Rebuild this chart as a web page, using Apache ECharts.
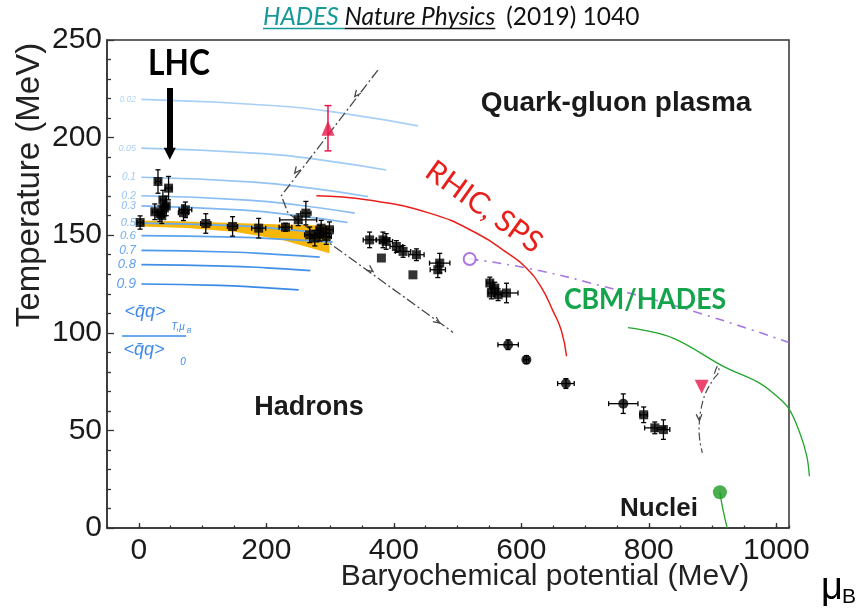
<!DOCTYPE html>
<html>
<head>
<meta charset="utf-8">
<script src="https://cdn.jsdelivr.net/npm/echarts@6/dist/echarts.min.js"></script>
<style>
html, body { margin: 0; padding: 0; background: #fff; }
#chart { width: 859px; height: 610px; }
</style>
</head>
<body>
<div id="chart"></div>
<script>
// ---------- axes ----------
const xMajorTicks = [0, 200, 400, 600, 800, 1000];
const xMinorStep = 50;
const yStep = 50;

// ---------- chemical freeze-out points (muB, T, errors) ----------
const fzMu    = [2, 30, 46.6, 37.7, 25, 33, 40, 36, 43, 73, 70, 105, 147, 188, 230, 250, 262, 268, 276, 284, 294, 299, 286, 362, 383, 388, 404, 380.5, 414.5, 435.5, 430, 472, 469, 550.6, 558.4, 553, 576.8, 563.6, 579.3, 608, 670, 760, 792, 809.5, 823];
const fzT     = [156.5, 177.5, 174.1, 168, 162, 161, 164, 160, 165, 163, 161.5, 156, 154.5, 153.6, 154.1, 157.9, 161.3, 150.2, 148.5, 151, 149.3, 152.8, 153.6, 147.6, 147.6, 146.8, 144.2, 138.3, 141.7, 140, 129.7, 135.7, 132.3, 125.5, 122.9, 120.4, 120.4, 119.5, 93.9, 86.2, 74, 63.7, 58, 51.3, 50.4];
const fzMuErr = [5, 4, 5, 4, 4, 4, 4, 4, 4, 10, 8, 8, 8, 11, 10, 29, 8, 8, 8, 8, 8, 6, 8, 10, 10, 10, 10, 0, 12, 12, 0, 16, 12, 5, 5, 5, 18, 6, 16, 4, 13, 23, 6, 16, 10];
const fzTErr  = [3.4, 6, 6, 5, 4, 4, 4, 4, 5, 4, 4, 5, 5, 5, 2, 3, 6, 4, 4, 4, 4, 4, 4, 4, 4, 4, 3, 0, 3, 3, 0, 5, 4, 3, 3, 3, 5, 3, 2.5, 2, 2.5, 5, 4, 3, 5];
const fzShape = ['s','s','s','s','s','s','s','s','s','s','s','s','s','s','s','s','s','s','s','s','s','s','s','s','s','s','s','s','s','s','s','s','s','s','s','s','s','s','c','c','c','c','s','s','s'];

// ---------- chiral condensate ratio contours ----------
const condLabels = ['0.02', '0.05', '0.1', '0.2', '0.3', '0.5', '0.6', '0.7', '0.8', '0.9'];
const condMu = [
  [4, 220, 330, 438],
  [4, 195, 290, 388],
  [4, 180, 270, 359.5],
  [4, 170, 255, 338.6],
  [4, 165, 245, 327.6],
  [4, 150, 230, 304],
  [4, 150, 230, 304],
  [4, 140, 215, 283.7],
  [4, 135, 200, 269],
  [4, 125, 190, 250.7]
];
const condT = [
  [219.6, 216.2, 211.9, 206.0],
  [194.6, 191.8, 188.3, 183.4],
  [179.7, 177.2, 174.1, 169.8],
  [170.2, 168.0, 165.2, 161.3],
  [165.0, 162.8, 160.2, 156.5],
  [156.2, 154.9, 153.0, 150.5],
  [149.8, 149.0, 147.9, 146.5],
  [142.2, 141.4, 140.2, 138.8],
  [134.9, 134.2, 133.3, 131.9],
  [125.0, 124.3, 123.3, 122.0]
];
const condColors = ['#a9d0f7', '#a0cbf6', '#94c4f4', '#8abef3', '#80b8f1', '#6aaaee', '#5ca2ec', '#4c98ea', '#3f8fe8', '#3a8ae6'];
const condLabelSize = [8.5, 9, 10, 10.5, 10.5, 11, 11.5, 12, 13, 14];

// ---------- crossover band ----------
const bandMu   = [3, 75, 150, 225, 299];
const bandLow  = [154.5, 153.7, 151.8, 147.6, 140.8];
const bandHigh = [157.5, 157.0, 156.2, 155.5, 154.8];

// ---------- boundary curves ----------
const rhicMu = [278.5, 360, 456, 530, 582, 605.5, 630, 650, 663, 671];
const rhicT  = [170.2, 168, 161.3, 151, 140, 134, 124, 111, 101, 88];
const cbmMu  = [767.5, 838, 917, 969, 995, 1019, 1037, 1048, 1052];
const cbmT   = [102.6, 97.3, 82.8, 75.1, 69.2, 61.5, 48.7, 36.7, 26.5];
const cepMu  = [519, 608, 726, 880, 1020];
const cepT   = [137.8, 133.2, 124, 110, 95];

// ---------- isentropic trajectories ----------
const trajMu = [375, 223.5, 234, 493];
const trajT  = [234.6, 170.2, 161.3, 100.2];
const trajArrowMu  = [338.7, 244.4, 367.4, 472];
const trajArrowT   = [221, 181.8, 131.4, 105];
const trajArrowSeg = [0, 0, 2, 2];

const lowMu = [903, 908, 910, 901, 889, 882, 879, 880, 884];
const lowT  = [79, 83, 80, 76, 69, 61, 52, 45, 38.5];
const lowArrowMu  = [879.4];
const lowArrowT   = [55];
const lowArrowSeg = [6];

// ---------- single markers ----------
const hadesUpMu = 296.7, hadesUpT = 204.8, hadesUpErr = 11.6;
const hadesDownMu = 883, hadesDownT = 72.3;
const nucleiMu = [911.6, 916, 923];
const nucleiT  = [18.3, 10, 0];
const lhcArrowMu = 48.5, lhcArrowTop = 225.4, lhcArrowEnd = 191.7;

// ---------- helpers ----------
function errorBarRenderer(color, cap, width) {
  return function (params, api) {
    const m = api.value(0), t = api.value(1), em = api.value(2), et = api.value(3);
    const c = api.coord([m, t]);
    const style = { stroke: color, lineWidth: width };
    const kids = [];
    if (em > 0) {
      const l = api.coord([m - em, t])[0], r = api.coord([m + em, t])[0];
      kids.push({ type: 'line', shape: { x1: l, y1: c[1], x2: r, y2: c[1] }, style });
      kids.push({ type: 'line', shape: { x1: l, y1: c[1] - cap, x2: l, y2: c[1] + cap }, style });
      kids.push({ type: 'line', shape: { x1: r, y1: c[1] - cap, x2: r, y2: c[1] + cap }, style });
    }
    if (et > 0) {
      const lo = api.coord([m, t - et])[1], hi = api.coord([m, t + et])[1];
      kids.push({ type: 'line', shape: { x1: c[0], y1: lo, x2: c[0], y2: hi }, style });
      kids.push({ type: 'line', shape: { x1: c[0] - cap, y1: lo, x2: c[0] + cap, y2: lo }, style });
      kids.push({ type: 'line', shape: { x1: c[0] - cap, y1: hi, x2: c[0] + cap, y2: hi }, style });
    }
    return { type: 'group', children: kids };
  };
}

function arrowRenderer(pathMu, pathT, color) {
  return function (params, api) {
    const seg = api.value(2);
    const p = api.coord([api.value(0), api.value(1)]);
    const a = api.coord([pathMu[seg], pathT[seg]]);
    const b = api.coord([pathMu[seg + 1], pathT[seg + 1]]);
    const ang = Math.atan2(b[1] - a[1], b[0] - a[0]);
    const L = 7, w = 0.42;
    const p1 = [p[0] - L * Math.cos(ang - w), p[1] - L * Math.sin(ang - w)];
    const p2 = [p[0] - L * Math.cos(ang + w), p[1] - L * Math.sin(ang + w)];
    return { type: 'polyline', shape: { points: [p1, p, p2] }, style: { stroke: color, fill: null, lineWidth: 1.3 } };
  };
}

// smooth curve drawn without clipping to the plot box
function curveRenderer(muArr, tArr, stroke, width, dash) {
  return function (params, api) {
    const pts = muArr.map((m, i) => api.coord([m, tArr[i]]));
    return {
      type: 'polyline', shape: { points: pts, smooth: 0.35 },
      style: { stroke: stroke, fill: null, lineWidth: width, lineDash: dash || null }
    };
  };
}

const zip = (a, b) => a.map((v, i) => [v, b[i]]);

// ---------- series ----------
const series = [];

series.push({
  type: 'custom', z: 1, silent: true,
  data: [[150, 150]],
  encode: { x: 0, y: 1 },
  renderItem: function (params, api) {
    const pts = [];
    for (let i = 0; i < bandMu.length; i++) pts.push(api.coord([bandMu[i], bandHigh[i]]));
    for (let i = bandMu.length - 1; i >= 0; i--) pts.push(api.coord([bandMu[i], bandLow[i]]));
    return { type: 'polygon', shape: { points: pts }, style: { fill: '#f6b60a' } };
  }
});

condLabels.forEach(function (lab, i) {
  series.push({
    type: 'line', z: 2, silent: true, smooth: true, symbol: 'none',
    data: zip(condMu[i], condT[i]),
    lineStyle: { color: condColors[i], width: 1.7 }
  });
});

series.push({
  type: 'scatter', z: 2, silent: true, symbolSize: 1,
  itemStyle: { color: 'rgba(0,0,0,0)' },
  data: condLabels.map(function (lab, i) {
    return {
      name: lab, value: [condMu[i][0], condT[i][0]],
      label: { fontSize: condLabelSize[i], color: condColors[Math.min(i + 1, 9)] }
    };
  }),
  label: {
    show: true, position: 'left', distance: 5, formatter: '{b}',
    fontStyle: 'italic', fontFamily: 'Liberation Sans'
  }
});

series.push({
  type: 'line', z: 3, silent: true, smooth: true, symbol: 'none',
  data: zip(rhicMu, rhicT), lineStyle: { color: '#e8201c', width: 1.5 }
});
series.push({
  type: 'custom', z: 3, silent: true, clip: false, encode: { x: 0, y: 1 },
  data: [[cbmMu[0], cbmT[0]]],
  renderItem: curveRenderer(cbmMu, cbmT, '#22a42a', 1.3)
});
series.push({
  type: 'line', z: 3, silent: true, smooth: true, symbol: 'none',
  data: zip(cepMu, cepT), lineStyle: { color: '#a678e2', width: 1.6, type: [9, 6, 2, 6] }
});

series.push({
  type: 'line', z: 4, silent: true, symbol: 'none',
  data: zip(trajMu, trajT), lineStyle: { color: '#4a4a4a', width: 1.3, type: [10, 3, 2, 3] }
});
series.push({
  type: 'custom', z: 4, silent: true, encode: { x: 0, y: 1 },
  data: trajArrowMu.map((m, i) => [m, trajArrowT[i], trajArrowSeg[i]]),
  renderItem: arrowRenderer(trajMu, trajT, '#4a4a4a')
});
series.push({
  type: 'custom', z: 4, silent: true, encode: { x: 0, y: 1 },
  data: [[lowMu[0], lowT[0]]],
  renderItem: curveRenderer(lowMu, lowT, '#4a4a4a', 1.2, [8, 3, 2, 3])
});
series.push({
  type: 'custom', z: 4, silent: true, encode: { x: 0, y: 1 },
  data: lowArrowMu.map((m, i) => [m, lowArrowT[i], lowArrowSeg[i]]),
  renderItem: arrowRenderer(lowMu, lowT, '#4a4a4a')
});

series.push({
  type: 'custom', z: 5, silent: true, encode: { x: 0, y: 1 },
  data: fzMu.map((m, i) => [m, fzT[i], fzMuErr[i], fzTErr[i]]),
  renderItem: errorBarRenderer('#000', 2.5, 1.3)
});
series.push({
  type: 'scatter', z: 6, silent: true,
  data: fzMu.map((m, i) => ({
    value: [m, fzT[i]],
    symbol: fzShape[i] === 'c' ? 'circle' : 'rect',
    symbolSize: fzShape[i] === 'c' ? 10 : 9
  })),
  itemStyle: { color: '#000' }
});

series.push({
  type: 'custom', z: 5, silent: true, encode: { x: 0, y: 1 },
  data: [[hadesUpMu, hadesUpT, 0, hadesUpErr]],
  renderItem: errorBarRenderer('#e8174a', 3.5, 1.5)
});
series.push({
  type: 'scatter', z: 6, silent: true, symbol: 'triangle', symbolSize: [13, 15],
  data: [[hadesUpMu, hadesUpT]], itemStyle: { color: '#e8174a' }
});
series.push({
  type: 'scatter', z: 6, silent: true, symbol: 'triangle', symbolRotate: 180, symbolSize: [14, 14],
  data: [[hadesDownMu, hadesDownT]], itemStyle: { color: '#e8174a' }
});
series.push({
  type: 'scatter', z: 6, silent: true, symbol: 'circle', symbolSize: 12,
  data: [[cepMu[0], cepT[0]]],
  itemStyle: { color: '#fff', borderColor: '#9a55d8', borderWidth: 2 }
});
series.push({
  type: 'line', z: 3, silent: true, smooth: true, symbol: 'none',
  data: zip(nucleiMu, nucleiT), lineStyle: { color: '#22a42a', width: 1.3 }
});
series.push({
  type: 'scatter', z: 6, silent: true, symbol: 'circle', symbolSize: 14,
  data: [[nucleiMu[0], nucleiT[0]]], itemStyle: { color: '#1e9a26' }
});
series.push({
  type: 'lines', coordinateSystem: 'cartesian2d', z: 7, silent: true,
  symbol: ['none', 'triangle'], symbolSize: [14, 12],
  data: [{ coords: [[lhcArrowMu, lhcArrowTop], [lhcArrowMu, lhcArrowEnd]] }],
  lineStyle: { color: '#000', width: 6, opacity: 1, curveness: 0 }
});

// ---------- text annotations ----------
const measureCtx = document.createElement('canvas').getContext('2d');
function textWidth(str, font) { measureCtx.font = font; return measureCtx.measureText(str).width; }

const titleSize = 24.5;
const titleFont = 'italic ' + titleSize + 'px Lato';
const titleX = 263, titleY = 17;
const wHades = textWidth('HADES ', titleFont);
const wNature = textWidth('Nature Physics', titleFont);

function label(x, y, text, opts) {
  return {
    type: 'text', x: x, y: y, z: 100, silent: true,
    rotation: opts.rotation || 0, scaleX: opts.scaleX || 1, scaleY: opts.scaleY || 1,
    style: {
      text: text, fill: opts.color || '#111',
      fontSize: opts.size, fontFamily: opts.family || 'Liberation Sans',
      fontWeight: opts.weight || 'normal', fontStyle: opts.style || 'normal',
      align: opts.align || 'center', verticalAlign: 'middle'
    }
  };
}

const ratioColor = '#3f8ae8';
const graphic = [
  label(titleX, titleY, 'HADES', { size: titleSize, family: 'Lato', style: 'italic', color: '#159a98', align: 'left' }),
  label(titleX + wHades, titleY, 'Nature Physics', { size: titleSize, family: 'Lato', style: 'italic', color: '#111', align: 'left' }),
  label(titleX + wHades + wNature + 11, titleY, '(2019) 1040', { size: titleSize, family: 'Lato', color: '#111', align: 'left' }),
  { type: 'line', z: 100, silent: true, shape: { x1: titleX, y1: 28.5, x2: titleX + wHades, y2: 28.5 }, style: { stroke: '#159a98', lineWidth: 1.5 } },
  { type: 'line', z: 100, silent: true, shape: { x1: titleX + wHades, y1: 28.5, x2: titleX + wHades + wNature, y2: 28.5 }, style: { stroke: '#111', lineWidth: 1.5 } },

  label(179, 63, 'LHC', { size: 36, family: 'Lato', weight: 'bold', color: '#000', scaleX: 0.88 }),
  label(616, 103, 'Quark-gluon plasma', { size: 28, weight: 'bold', color: '#1a1a1a' }),
  label(309, 408, 'Hadrons', { size: 27, weight: 'bold', color: '#1a1a1a' }),
  label(659, 509, 'Nuclei', { size: 26, weight: 'bold', color: '#1a1a1a' }),
  label(484, 207, 'RHIC, SPS', { size: 30, family: 'Lato', color: '#e8201c', rotation: -0.62 }),
  label(645, 300, 'CBM/HADES', { size: 29, family: 'Lato', weight: 'bold', color: '#14a54c', scaleX: 0.92 }),

  label(145, 312, '<q\u0304q>', { size: 18, style: 'italic', color: ratioColor }),
  label(178, 327, 'T,\u03bc', { size: 10, style: 'italic', color: ratioColor }),
  label(189, 331, 'B', { size: 7, style: 'italic', color: ratioColor }),
  { type: 'line', z: 100, silent: true, shape: { x1: 122, y1: 336, x2: 186, y2: 336 }, style: { stroke: ratioColor, lineWidth: 1.6 } },
  label(144, 350, '<q\u0304q>', { size: 18, style: 'italic', color: ratioColor }),
  label(183, 362, '0', { size: 10, style: 'italic', color: ratioColor }),

  label(30, 185, 'Temperature (MeV)', { size: 33, color: '#222', rotation: Math.PI / 2 }),
  label(545, 577, 'Baryochemical potential (MeV)', { size: 30, color: '#222' }),
  label(832, 589, '\u03bc', { size: 38, color: '#000' }),
  label(849, 597, 'B', { size: 21, color: '#000' })
];

// ---------- chart ----------
const chart = echarts.init(document.getElementById('chart'), null, { renderer: 'canvas' });
const axisColor = '#333';
chart.setOption({
  animation: false,
  backgroundColor: '#fff',
  grid: { left: 107, right: 70, top: 40, bottom: 82, show: true, borderColor: axisColor, borderWidth: 1.5, backgroundColor: 'transparent' },
  xAxis: [
    {
      type: 'value', min: -50, max: 1020, position: 'bottom',
      axisLine: { show: true, onZero: false, lineStyle: { color: axisColor, width: 1.5 } },
      axisTick: { show: true, inside: true, length: 5, customValues: xMajorTicks, lineStyle: { color: axisColor, width: 1.3 } },
      axisLabel: { show: true, customValues: xMajorTicks, formatter: v => String(v), fontSize: 30, fontFamily: 'Liberation Sans', color: '#1a1a1a', margin: 8 },
      splitLine: { show: false }
    },
    {
      type: 'value', min: -50, max: 1020, interval: xMinorStep, position: 'bottom',
      axisLine: { show: false, onZero: false },
      axisTick: { show: true, inside: true, length: 2.5, lineStyle: { color: axisColor, width: 1.3 } },
      axisLabel: { show: false },
      splitLine: { show: false }
    }
  ],
  yAxis: {
    type: 'value', min: 0, max: 250, interval: yStep,
    axisLine: { show: true, onZero: false, lineStyle: { color: axisColor, width: 1.5 } },
    axisTick: { show: true, inside: true, length: 7, lineStyle: { color: axisColor, width: 1.3 } },
    minorTick: { show: true, splitNumber: 5, length: 4, lineStyle: { color: axisColor, width: 1.3 } },
    axisLabel: { fontSize: 30, fontFamily: 'Liberation Sans', color: '#1a1a1a', margin: 5 },
    splitLine: { show: false }, minorSplitLine: { show: false }
  },
  series: series,
  graphic: graphic
});
</script>
</body>
</html>
